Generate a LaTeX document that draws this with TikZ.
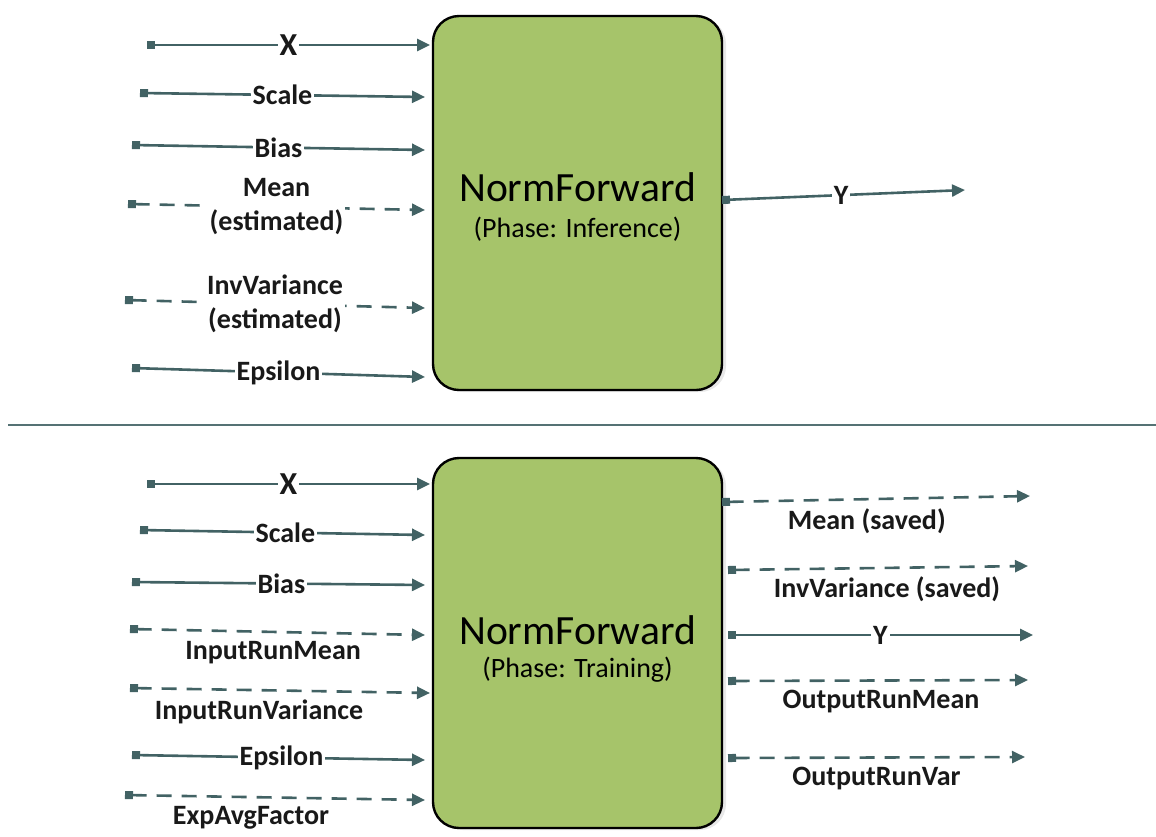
\documentclass[tikz,border=0pt]{standalone}
\usepackage{fontspec}
\setmainfont{Carlito}
\usepackage{xcolor}
\usetikzlibrary{arrows.meta}
\usetikzlibrary{shadows}
\definecolor{wirecol}{RGB}{66,98,100}
\definecolor{boxgreen}{RGB}{166,196,106}
\tikzstyle{normbox} = [draw=black, fill=boxgreen, line width=1.2pt,
rectangle, rounded corners=13pt, minimum width=144.5pt,
drop shadow={opacity=0.18, shadow xshift=2pt, shadow yshift=-1pt}]
\tikzstyle{wire} = [draw=wirecol, line width=1.3pt,
{Square[length=4pt,width=4pt]}-{Triangle[length=6.5pt,width=6pt]}]
\tikzstyle{dashwire} = [wire, dash pattern=on 7.5pt off 5pt]
\tikzstyle{onlab} = [fill=white, inner sep=1pt, text=black!90, align=center,
font=\fontsize{14}{17}\selectfont\bfseries]
\tikzstyle{underlab} = [inner sep=0pt, below=4pt, text=black!90,
font=\fontsize{14}{17}\selectfont\bfseries]

\begin{document}
\begin{tikzpicture}[x=0.5pt, y=-0.5pt]
    \useasboundingbox (0,0) rectangle (1156,836);
    % inference box
    \node [normbox, minimum height=187pt] (inf) at (577.5,203) {};
    \node [font=\fontsize{20.8}{24}\selectfont] (infname) at (577.5,187) {NormForward};
    \node [font=\fontsize{14}{17}\selectfont] (infphase) at (577.5,229) {(Phase: Inference)};
    % training box
    \node [normbox, minimum height=185pt] (trn) at (577.5,643) {};
    \node [font=\fontsize{20.8}{24}\selectfont] (trnname) at (577.5,630) {NormForward};
    \node [font=\fontsize{14}{17}\selectfont] (trnphase) at (577.5,670) {(Phase: Training)};

    % separator
    \coordinate (sepl) at (8,425);
    \coordinate (sepr) at (1156,425);
    \draw [draw=wirecol!90, line width=1.1pt] (sepl) -- (sepr);

    % inference inputs
    \coordinate (ix0) at (147,45);  \coordinate (ix1) at (430,45);
    \coordinate (is0) at (140,93);  \coordinate (is1) at (425,97);
    \coordinate (ib0) at (132,145); \coordinate (ib1) at (425,150);
    \coordinate (im0) at (128,204); \coordinate (im1) at (425,210);
    \coordinate (iv0) at (125,300); \coordinate (iv1) at (425,308);
    \coordinate (ie0) at (132,368); \coordinate (ie1) at (425,377);
    \draw [wire] (ix0) -- node[onlab, font=\fontsize{16}{19}\selectfont\bfseries] {X} (ix1);
    \draw [wire] (is0) -- node[onlab] {Scale} (is1);
    \draw [wire] (ib0) -- node[onlab] {Bias} (ib1);
    \draw [dashwire] (im0) -- node[onlab] {Mean\\(estimated)} (im1);
    \draw [dashwire] (iv0) -- node[onlab] {InvVariance\\(estimated)} (iv1);
    \draw [wire] (ie0) -- node[onlab] {Epsilon} (ie1);
    % inference output
    \coordinate (iy0) at (722,200); \coordinate (iy1) at (965,190);
    \draw [wire] (iy0) -- node[onlab, pos=0.49] {Y} (iy1);

    % training inputs
    \coordinate (tx0) at (147,484); \coordinate (tx1) at (430,484);
    \coordinate (ts0) at (140,530); \coordinate (ts1) at (425,535);
    \coordinate (tb0) at (132,582); \coordinate (tb1) at (425,585);
    \coordinate (tm0) at (130,629); \coordinate (tm1) at (425,635);
    \coordinate (tv0) at (130,688); \coordinate (tv1) at (430,693);
    \coordinate (te0) at (132,755); \coordinate (te1) at (425,760);
    \coordinate (ta0) at (125,795); \coordinate (ta1) at (425,800);
    \draw [wire] (tx0) -- node[onlab, font=\fontsize{16}{19}\selectfont\bfseries] {X} (tx1);
    \draw [wire] (ts0) -- node[onlab, pos=0.51] {Scale} (ts1);
    \draw [wire] (tb0) -- node[onlab, pos=0.51] {Bias} (tb1);
    \draw [dashwire] (tm0) -- node[underlab, pos=0.485] {InputRunMean} (tm1);
    \draw [dashwire] (tv0) -- node[underlab, pos=0.43] {InputRunVariance} (tv1);
    \draw [wire] (te0) -- node[onlab, pos=0.51] {Epsilon} (te1);
    \draw [dashwire] (ta0) -- node[underlab, pos=0.42] {ExpAvgFactor} (ta1);

    % training outputs
    \coordinate (om0) at (722,502); \coordinate (om1) at (1030,496);
    \coordinate (ov0) at (728,570); \coordinate (ov1) at (1028,566);
    \coordinate (oy0) at (728,635); \coordinate (oy1) at (1033,635);
    \coordinate (or0) at (728,681); \coordinate (or1) at (1028,680);
    \coordinate (oq0) at (728,758); \coordinate (oq1) at (1025,757);
    \draw [dashwire] (om0) -- node[underlab, pos=0.47] {Mean (saved)} (om1);
    \draw [dashwire] (ov0) -- node[underlab, pos=0.53] {InvVariance (saved)} (ov1);
    \draw [wire] (oy0) -- node[onlab] {Y} (oy1);
    \draw [dashwire] (or0) -- node[underlab, pos=0.51] {OutputRunMean} (or1);
    \draw [dashwire] (oq0) -- node[underlab, pos=0.5] {OutputRunVar} (oq1);
\end{tikzpicture}
\end{document}
